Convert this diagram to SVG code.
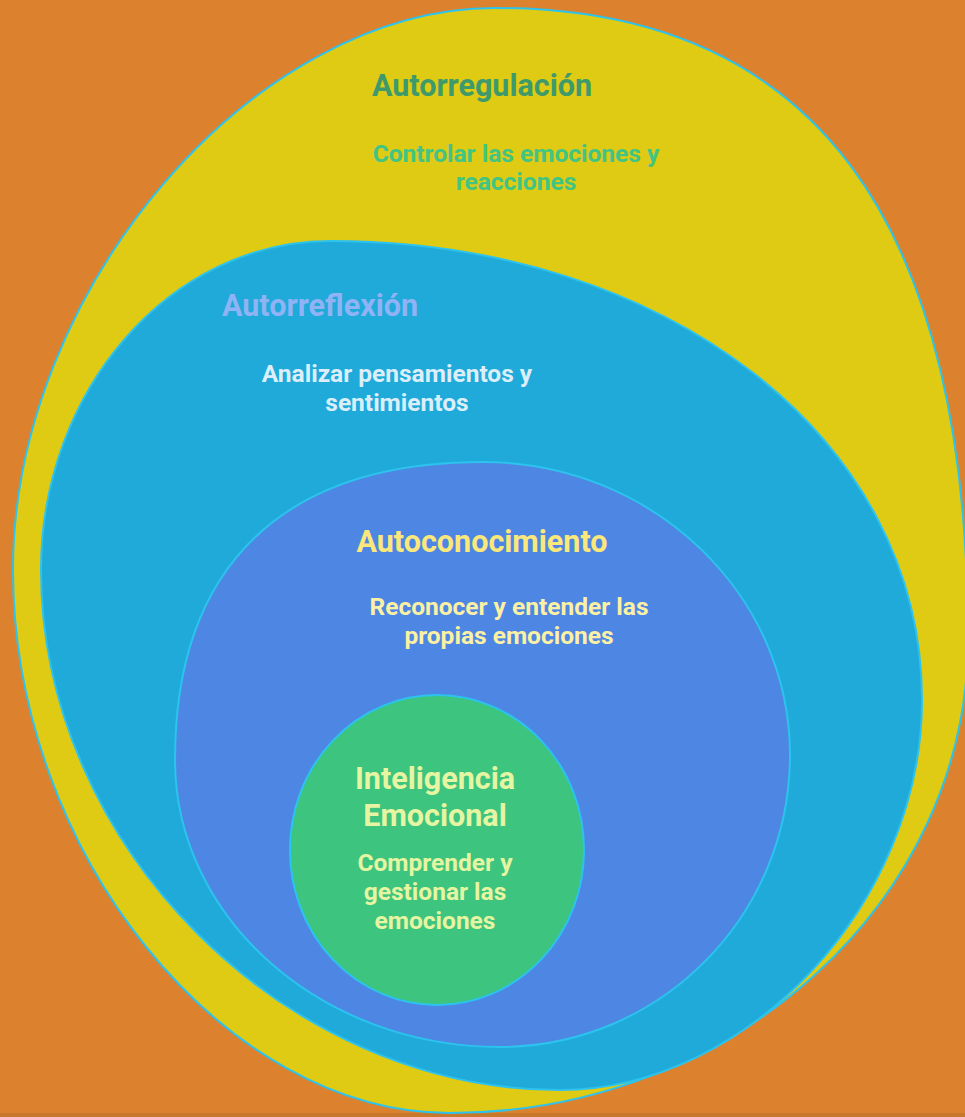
<svg xmlns="http://www.w3.org/2000/svg" width="965" height="1117" viewBox="0 0 965 1117">
<style>
.shape{stroke:#2CC3EE;stroke-width:2}
text{font-family:Roboto,"Liberation Sans",sans-serif;font-weight:bold;text-anchor:middle}
.t{font-size:30.5px}
.s{font-size:24.5px}
</style>
<rect x="0" y="0" width="965" height="1117" fill="#DC822E"/>
<rect x="0" y="1113" width="965" height="4" fill="#C9772B"/>
<g id="autorregulacion">
<path class="shape" fill="#DFCA14" d="M495,8 C812,8 968,217 968,640 C968,900 735,1113 450,1113 C223,1113 13,852 13,570 C13,289 254,8 495,8 Z"/>
<text class="t" x="482" y="96" fill="#3E9A6A">Autorregulación</text>
<text class="s" x="516" y="162" fill="#42C482">Controlar las emociones y</text>
<text class="s" x="516" y="190" fill="#42C482">reacciones</text>
</g>
<g id="autorreflexion">
<path class="shape" fill="#1FAAD9" d="M330,241 C667,241 922,438 922,700 C922,903 748,1090 560,1090 C285,1090 41,846 41,570 C41,389 171,241 330,241 Z"/>
<text class="t" x="320" y="316" fill="#8FB3F4">Autorreflexión</text>
<text class="s" x="397" y="382" fill="#DDEEFB">Analizar pensamientos y</text>
<text class="s" x="397" y="411" fill="#DDEEFB">sentimientos</text>
</g>
<g id="autoconocimiento">
<path class="shape" fill="#4D87E3" d="M483,462 C652,462 790,594 790,755 C790,916 660,1047 500,1047 C321,1047 175,918 175,760 C175,566 283,462 483,462 Z"/>
<text class="t" x="482" y="552" fill="#FBE77A">Autoconocimiento</text>
<text class="s" x="509" y="615" fill="#FCF0A4">Reconocer y entender las</text>
<text class="s" x="509" y="644" fill="#FCF0A4">propias emociones</text>
</g>
<g id="inteligencia-emocional">
<ellipse class="shape" fill="#3DC47E" cx="437" cy="850" rx="147" ry="155"/>
<text class="t" x="435" y="789" fill="#E6F5A2">Inteligencia</text>
<text class="t" x="435" y="826" fill="#E6F5A2">Emocional</text>
<text class="s" x="435" y="871" fill="#E6F5A2">Comprender y</text>
<text class="s" x="435" y="900" fill="#E6F5A2">gestionar las</text>
<text class="s" x="435" y="929" fill="#E6F5A2">emociones</text>
</g>
<g id="connectors"/>
</svg>
